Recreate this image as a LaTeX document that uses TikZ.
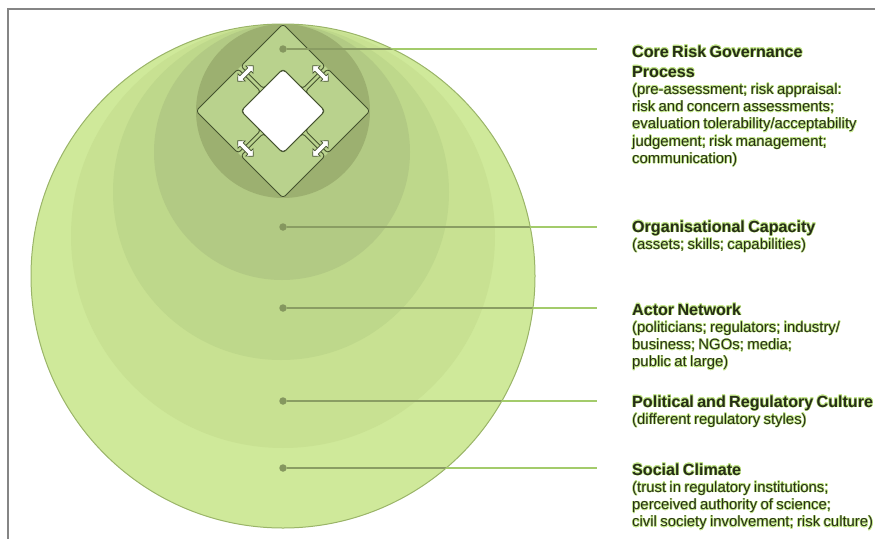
\documentclass[tikz,border=0pt]{standalone}
\usepackage{fontspec}
\setmainfont{Liberation Sans}
\usepackage{tikz}
\usetikzlibrary{positioning}
\usepackage{xcolor}
\usepackage{contour}
\contourlength{0.5pt}

\definecolor{frameGray}{HTML}{858585}
\definecolor{ringA}{HTML}{CFE99A}
\definecolor{ringB}{HTML}{C8E192}
\definecolor{ringC}{HTML}{BED88B}
\definecolor{ringD}{HTML}{B2CA84}
\definecolor{ringE}{HTML}{9CB070}
\definecolor{rimGreen}{HTML}{9AB468}
\definecolor{pieceGreen}{HTML}{B9D28D}
\definecolor{edgeDark}{HTML}{44522E}
\definecolor{dotGreen}{HTML}{85975F}
\definecolor{leadDark}{HTML}{8A9D63}
\definecolor{leadLight}{HTML}{A3CB6B}
\definecolor{txtDark}{HTML}{262D18}
\definecolor{haloGreen}{HTML}{C2E688}

\newcommand{\headfont}{\fontsize{16.1}{20}\selectfont\bfseries}
\newcommand{\notefont}{\fontsize{14.9}{17.3}\selectfont}
\newcommand{\glow}[1]{\contour{haloGreen}{#1}}

\tikzset{
  dot/.style={circle, fill=dotGreen, inner sep=0pt, minimum size=7.5pt},
  leaderin/.style={leadDark, line width=1.3pt},
  leaderout/.style={leadLight, line width=1.3pt},
  legendtext/.style={anchor=base west, text width=260pt, align=left, inner sep=0pt, text=txtDark},
  piece/.style={draw=edgeDark, line width=0.9pt, rounded corners=3pt, fill=pieceGreen},
  flowarrow/.pic={
    \draw [draw=edgeDark, fill=white, line width=0.7pt, line join=miter]
      (-11,0) -- (-5.5,5.2) -- (-5.5,2.4) -- (5.5,2.4) -- (5.5,5.2) -- (11,0)
      -- (5.5,-5.2) -- (5.5,-2.4) -- (-5.5,-2.4) -- (-5.5,-5.2) -- cycle;
  }
}

\begin{document}
\begin{tikzpicture}[x=1pt, y=-1pt]
    \useasboundingbox (0,0) rectangle (875,538);

    % frame
    \draw [frameGray, line width=2pt] (8,540) -- (8,9) -- (877,9);

    % nested circles, all touching at the top
    \fill [ringA] (283,276) circle [radius=252];
    \fill [ringB] (283,236) circle [radius=212];
    \fill [ringC] (281,192) circle [radius=168];
    \fill [ringD] (282,152) circle [radius=128];
    \fill [ringE] (283,111) circle [radius=87];
    \draw [rimGreen, line width=1pt] (283,276) circle [radius=252];

    % core process diamond
    \def\oa{61.5}
    \def\ib{29.7}
    \def\gp{1.9}
    \begin{scope}[shift={(283,111)}, rotate=45]
        \fill [pieceGreen] (-\oa,-\oa) rectangle (\oa,\oa);
        \draw [piece] (\gp,\ib) -- (\gp,\oa) -- (\oa,\oa) -- (\oa,\gp) -- (\ib,\gp) -- (\ib,\ib) -- cycle;
        \draw [piece] (-\gp,\ib) -- (-\gp,\oa) -- (-\oa,\oa) -- (-\oa,\gp) -- (-\ib,\gp) -- (-\ib,\ib) -- cycle;
        \draw [piece] (\gp,-\ib) -- (\gp,-\oa) -- (\oa,-\oa) -- (\oa,-\gp) -- (\ib,-\gp) -- (\ib,-\ib) -- cycle;
        \draw [piece] (-\gp,-\ib) -- (-\gp,-\oa) -- (-\oa,-\oa) -- (-\oa,-\gp) -- (-\ib,-\gp) -- (-\ib,-\ib) -- cycle;
        \draw [draw=edgeDark, line width=0.9pt, fill=white, rounded corners=4pt] (-\ib,-\ib) rectangle (\ib,\ib);
    \end{scope}

    % flow arrows between the four steps
    \pic [rotate=45] (fUpLeft) at (245.5,73.5) {flowarrow};
    \pic [rotate=45] (fDownRight) at (320.5,148.5) {flowarrow};
    \pic [rotate=-45] (fUpRight) at (320.5,73.5) {flowarrow};
    \pic [rotate=-45] (fDownLeft) at (245.5,148.5) {flowarrow};

    % leader dots and ends
    \node [dot] (dCore) at (283,49) {};
    \node [dot] (dOrg) at (283,227) {};
    \node [dot] (dActor) at (283,308) {};
    \node [dot] (dPolitic) at (283,401) {};
    \node [dot] (dSocial) at (283,468) {};

    \coordinate (eCore) at (597,49);
    \coordinate (eOrg) at (597,227);
    \coordinate (eActor) at (597,308);
    \coordinate (ePolitic) at (597,401);
    \coordinate (eSocial) at (597,468);

    \draw [leaderout] (dCore) -- (eCore);
    \draw [leaderout] (dOrg) -- (eOrg);
    \draw [leaderout] (dActor) -- (eActor);
    \draw [leaderout] (dPolitic) -- (ePolitic);
    \draw [leaderout] (dSocial) -- (eSocial);

    \begin{scope}
        \clip (283,276) circle [radius=251.5];
        \draw [leaderin] (dCore) -- (eCore);
        \draw [leaderin] (dOrg) -- (eOrg);
        \draw [leaderin] (dActor) -- (eActor);
        \draw [leaderin] (dPolitic) -- (ePolitic);
        \draw [leaderin] (dSocial) -- (eSocial);
    \end{scope}

    % legend texts
    \node [legendtext] (tCore) at (632,57) {%
      {\headfont\glow{Core Risk Governance}\\\glow{Process}\par}%
      {\notefont\glow{(pre-assessment; risk appraisal:}\\\glow{risk and concern assessments;}\\%
      \glow{evaluation tolerability/acceptability}\\\glow{judgement; risk management;}\\%
      \glow{communication)}\par}};

    \node [legendtext] (tOrg) at (632,232) {%
      {\headfont\glow{Organisational Capacity}\par}%
      {\notefont\glow{(assets; skills; capabilities)}\par}};

    \node [legendtext] (tActor) at (632,315) {%
      {\headfont\glow{Actor Network}\par}%
      {\notefont\glow{(politicians; regulators; industry/}\\\glow{business; NGOs; media;}\\%
      \glow{public at large)}\par}};

    \node [legendtext] (tPolitic) at (632,407) {%
      {\headfont\glow{Political and Regulatory Culture}\par}%
      {\notefont\glow{(different regulatory styles)}\par}};

    \node [legendtext] (tSocial) at (632,475) {%
      {\headfont\glow{Social Climate}\par}%
      {\notefont\glow{(trust in regulatory institutions;}\\\glow{perceived authority of science;}\\%
      \glow{civil society involvement; risk culture)}\par}};

\end{tikzpicture}
\end{document}
